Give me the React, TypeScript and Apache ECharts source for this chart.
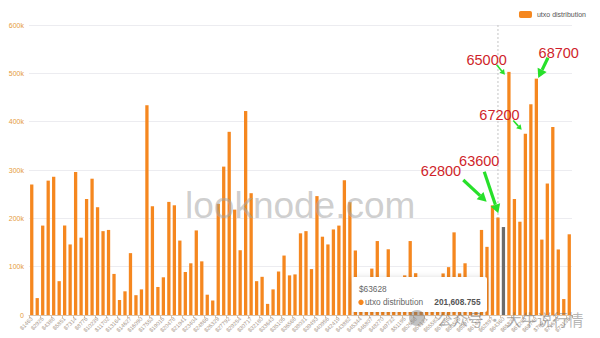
import React, { useEffect, useRef } from 'react';
import * as echarts from 'echarts';

// Price bins (bin width ≈ $731.36), shown as tick labels
const categories: string[] = [
  '$1463','$2194','$2925','$3657','$4388','$5120','$5851','$6582','$7314','$8045',
  '$8776','$9508','$10239','$10970','$11702','$12433','$13164','$13896','$14627','$15359',
  '$16090','$16821','$17553','$18284','$19015','$19747','$20478','$21209','$21941','$22672',
  '$23404','$24135','$24866','$25598','$26329','$27060','$27792','$28523','$29254','$29986',
  '$30717','$31448','$32180','$32911','$33643','$34374','$35105','$35837','$36568','$37299',
  '$38031','$38762','$39493','$40225','$40956','$41688','$42419','$43150','$43882','$44613',
  '$45344','$46076','$46807','$47538','$48270','$49001','$49732','$50464','$51195','$51927',
  '$52658','$53389','$54121','$54852','$55583','$56315','$57046','$57777','$58509','$59240',
  '$59972','$60703','$61434','$62166','$62897','$63628','$64360','$65091','$65822','$66554',
  '$67285','$68016','$68748','$69479','$70211','$70942','$71673','$72405','$73136',
];

// UTXO distribution values
const utxoValues: number[] = [
  270000, 35000, 185000, 278000, 286000, 70000, 185000, 146000, 296000, 160000,
  240000, 282000, 223000, 173500, 176000, 85000, 31000, 49000, 128000, 41000,
  53000, 434000, 225000, 58000, 78000, 234000, 227000, 154000, 89000, 107000,
  175000, 111000, 42000, 30000, 230000, 307000, 379000, 218000, 134000, 422000,
  252000, 70000, 79000, 23000, 53000, 90000, 123000, 82000, 84000, 169000,
  173500, 95000, 246000, 162000, 146000, 177000, 185000, 279000, 233500, 133500,
  40000, 25000, 96000, 153000, 50000, 136000, 60000, 78000, 82000, 153000,
  86500, 30000, 45000, 20000, 35000, 86000, 99000, 171000, 86000, 107000,
  55000, 40000, 176000, 141000, 227000, 201608.755, 182000, 503000, 240000, 193000,
  375000, 436000, 489000, 156000, 272000, 389000, 135600, 33000, 167000,
];

const seriesName = 'utxo distribution';
const yTicks = [0, 100000, 200000, 300000, 400000, 500000, 600000];
const hoveredIndex = 85;
const greyIndex = 86;

// Annotation texts and the bars they point at
const annoLabels = ['62800', '63600', '65000', '67200', '68700'];
const annoBars = [84, 85, 87, 90, 92];

// layout offsets (pixels, relative to bar top)
const annoLayout = [
  { text: [-51.5, -33.8], tail: [-29.2, -25.3], tip: [-5.8, -3.6], w: 3.2 },
  { text: [-18.7, -56.2], tail: [-13.7, -45.8], tip: [0.3, -4.2], w: 3.2 },
  { text: [-22.3, -12.1], tail: [-12.3, -7.1], tip: [-4, 2.9], w: 1.6 },
  { text: [-25.9, -18.4], tail: [-12.1, -13.2], tip: [-3.7, -3.9], w: 1.6 },
  { text: [22.4, -25.9], tail: [11.6, -20.9], tip: [1.9, -0.6], w: 3.2 },
];

const FONT = '"Liberation Sans", Arial, Helvetica, sans-serif';
const ORANGE = '#f5871f';

function fmtNum(v: number) {
  return v.toLocaleString('en-US', { minimumFractionDigits: 3, maximumFractionDigits: 3 });
}

export default function App() {
  const ref = useRef<HTMLDivElement>(null);
  useEffect(() => {
    const el = ref.current!;
    const chart = echarts.init(el, undefined, { renderer: 'svg' });
    chart.setOption({
      animation: false,
      textStyle: { fontFamily: FONT },
      legend: {
        right: 9,
        top: 6,
        itemWidth: 13,
        itemHeight: 7,
        itemGap: 6,
        textStyle: { fontSize: 7, color: '#555', fontFamily: FONT },
        data: [seriesName],
      },
      grid: { left: 29, right: 28, top: 25, bottom: 23, containLabel: false },
      xAxis: {
        type: 'category',
        data: categories,
        axisLine: { lineStyle: { color: '#d8c4ae' } },
        axisTick: { show: true, length: 3, lineStyle: { color: '#d8c4ae' } },
        axisLabel: {
          rotate: 45,
          fontSize: 5.6,
          color: '#a8978a',
          margin: 3,
          interval: 1,
          fontFamily: FONT,
        },
      },
      yAxis: {
        type: 'value',
        min: 0,
        max: yTicks[yTicks.length - 1],
        interval: yTicks[1] - yTicks[0],
        axisLine: { show: false },
        axisTick: { show: false },
        splitLine: { lineStyle: { color: '#ececf0' } },
        axisLabel: {
          fontSize: 7,
          color: '#e59a3c',
          margin: 5,
          fontFamily: FONT,
          formatter: (v: number) => (v === 0 ? '0' : v / 1000 + 'k'),
        },
      },
      series: [
        {
          name: seriesName,
          type: 'bar',
          barCategoryGap: '40%',
          itemStyle: { color: ORANGE },
          emphasis: { disabled: true },
          data: utxoValues.map((v, i) =>
            i === greyIndex ? { value: v, itemStyle: { color: '#6b6b6b' } } : v
          ),
        },
      ],
    });

    const graphics: any[] = [];
    const base = chart.convertToPixel({ seriesIndex: 0 }, [hoveredIndex, 0]) as number[];
    const topPx = chart.convertToPixel({ yAxisIndex: 0 }, yTicks[yTicks.length - 1]) as number;
    // axis pointer dashed line
    graphics.push({
      type: 'line',
      z: 1,
      shape: { x1: base[0], y1: topPx, x2: base[0], y2: base[1] },
      style: { stroke: '#c4c4c4', lineWidth: 1, lineDash: [2, 2] },
    });

    // watermark
    graphics.push({
      type: 'text',
      z: 100,
      x: 185,
      y: 187,
      style: {
        text: 'looknode.com',
        fontSize: 37,
        fontFamily: FONT,
        fill: 'rgba(165,165,165,0.55)',
        verticalAlign: 'alphabetic',
      },
    });

    // annotations
    annoBars.forEach((bi, n) => {
      const p = chart.convertToPixel({ seriesIndex: 0 }, [bi, utxoValues[bi]]) as number[];
      const L = annoLayout[n];
      const tx = p[0] + L.tail[0], ty = p[1] + L.tail[1];
      const hx = p[0] + L.tip[0], hy = p[1] + L.tip[1];
      const dx = hx - tx, dy = hy - ty;
      const len = Math.hypot(dx, dy) || 1;
      const ux = dx / len, uy = dy / len;
      const nx = -uy, ny = ux;
      const hl = L.w > 2 ? 9 : 5;
      const hw = L.w > 2 ? 5 : 3;
      const bx = hx - ux * hl, by = hy - uy * hl;
      graphics.push({
        type: 'line',
        z: 101,
        shape: { x1: tx, y1: ty, x2: bx, y2: by },
        style: { stroke: '#27e02a', lineWidth: L.w },
      });
      graphics.push({
        type: 'polygon',
        z: 101,
        shape: {
          points: [
            [hx, hy],
            [bx + nx * hw, by + ny * hw],
            [bx - nx * hw, by - ny * hw],
          ],
        },
        style: { fill: '#27e02a' },
      });
      graphics.push({
        type: 'text',
        z: 102,
        x: p[0] + L.text[0],
        y: p[1] + L.text[1],
        style: {
          text: annoLabels[n],
          fontSize: 14.5,
          fontFamily: FONT,
          fill: '#cf1f2b',
          align: 'center',
          verticalAlign: 'middle',
        },
      });
    });

    // static tooltip
    graphics.push({
      type: 'group',
      z: 110,
      x: 352,
      y: 277,
      children: [
        {
          type: 'rect',
          z: 110,
          shape: { x: 0, y: 0, width: 135, height: 35, r: 2 },
          style: {
            fill: '#ffffff',
            shadowBlur: 6,
            shadowColor: 'rgba(0,0,0,0.18)',
            shadowOffsetY: 1,
          },
        },
        {
          type: 'text',
          z: 111,
          x: 7,
          y: 11.5,
          style: {
            text: categories[hoveredIndex],
            fontSize: 8.3,
            fontFamily: FONT,
            fill: '#666',
            verticalAlign: 'middle',
          },
        },
        {
          type: 'circle',
          z: 111,
          shape: { cx: 9, cy: 25.3, r: 2.7 },
          style: { fill: ORANGE },
        },
        {
          type: 'text',
          z: 111,
          x: 13,
          y: 25.3,
          style: {
            text: seriesName,
            fontSize: 8.3,
            fontFamily: FONT,
            fill: '#666',
            verticalAlign: 'middle',
          },
        },
        {
          type: 'text',
          z: 111,
          x: 128.5,
          y: 25.3,
          style: {
            text: fmtNum(utxoValues[hoveredIndex]),
            fontSize: 8.3,
            fontWeight: 'bold',
            fontFamily: FONT,
            fill: '#555',
            align: 'right',
            verticalAlign: 'middle',
          },
        },
      ],
    });

    // WeChat watermark
    graphics.push({
      type: 'circle',
      z: 120,
      shape: { cx: 417, cy: 318, r: 8 },
      style: { fill: 'rgba(120,120,120,0.45)' },
    });
    graphics.push({
      type: 'text',
      z: 120,
      x: 437,
      y: 318.5,
      style: {
        text: '公众号 · 大牛说行情',
        fontSize: 15.5,
        fontFamily: '"Noto Sans CJK SC", sans-serif',
        fill: 'rgba(110,110,110,0.5)',
        verticalAlign: 'middle',
      },
    });

    chart.setOption({ graphic: graphics });
    return () => chart.dispose();
  }, []);

  return (
    <div
      ref={ref}
      style={{ position: 'fixed', left: 0, top: 0, width: 600, height: 338, background: '#fff' }}
    />
  );
}
